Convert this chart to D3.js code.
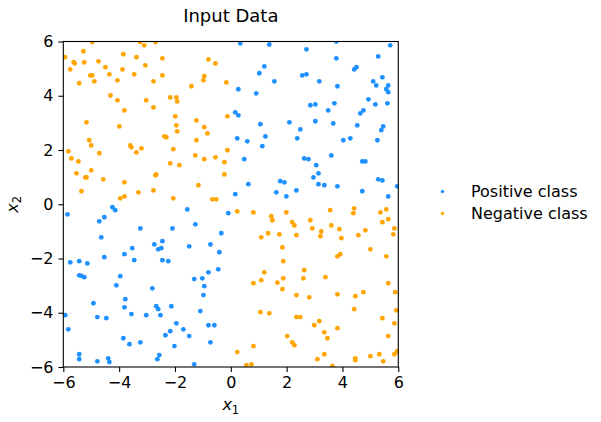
<!DOCTYPE html>
<html>
<head>
<meta charset="utf-8">
<script src="https://cdn.jsdelivr.net/npm/d3@7"></script>
<style>
  body { margin: 0; background: white; }
  svg { display: block; font-family: "DejaVu Sans", sans-serif; }
</style>
</head>
<body>
<svg id="chart"></svg>
<script>
// values
const posX = [0.34,1.38,3.78,5.71,2.71,3.78,5.28,1.20,4.42,4.50,1.02,2.56,2.71,1.56,3.17,5.10,5.43,5.21,5.64,5.57,5.64,3.82,0.27,0.91,4.93,5.18,5.61,2.85,3.03,3.71,3.49,4.75,4.64,0.16,0.27,1.06,2.10,3.03,3.67,4.53,5.46,5.39,2.49,0.23,0.59,1.24,1.13,2.38,4.03,4.28,5.25,3.60,0.48,2.63,2.78,3.06,4.71,4.82,3.14,2.96,1.77,1.92,0.63,3.14,3.35,3.82,5.28,5.43,5.96,2.35,1.63,4.71,0.16,1.99,5.64,
  -5.85,-4.24,-4.14,-1.56,-0.09,-4.53,-4.71,-1.27,-3.24,-2.09,-0.34,-4.64,-2.45,-2.74,-1.49,-0.73,-3.53,-2.60,-2.49,-0.41,-3.81,-4.53,-3.46,-2.45,-2.24,-5.75,-5.43,-5.14,-0.45,-0.80,-5.43,-5.35,-5.25,-3.96,-1.31,-1.02,-4.10,-0.95,-2.81,-0.98,-3.78,-4.92,-3.81,-2.67,-2.60,-2.52,-2.13,-1.09,-3.56,-3.03,-5.93,-4.78,-4.46,-1.95,-0.80,-0.59,-5.82,-1.70,-2.17,-2.34,-1.49,-3.85,-3.63,-3.24,-0.73,-2.02,-5.43,-5.43,-2.56,-2.63,-4.39,-4.35,-4.78,-1.31];
const posY = [5.93,5.89,6.00,5.86,5.71,5.38,5.45,5.08,4.97,5.05,4.83,4.75,4.79,4.53,4.53,4.53,4.68,4.38,4.38,4.24,4.13,4.35,4.24,4.09,3.87,3.68,3.72,3.65,3.68,3.72,3.46,3.46,3.35,3.39,3.28,2.95,3.02,3.06,2.98,2.91,2.87,2.73,2.76,2.43,2.32,2.50,2.14,2.43,2.36,2.43,2.36,1.80,1.66,1.69,1.66,1.44,1.58,1.58,1.14,0.99,0.85,0.81,0.74,0.74,0.70,0.66,0.92,0.88,0.66,0.51,0.44,0.48,0.37,0.29,0.29,
  -0.37,-0.11,-0.22,-0.19,-0.33,-0.48,-0.63,-0.74,-0.89,-0.89,-1.07,-1.22,-1.36,-1.48,-1.55,-1.48,-1.62,-1.66,-1.62,-1.77,-1.84,-1.95,-2.06,-2.06,-2.10,-2.14,-2.10,-2.18,-2.40,-2.51,-2.62,-2.64,-2.69,-2.65,-2.76,-2.73,-2.99,-3.02,-3.10,-3.35,-3.50,-3.65,-3.80,-3.76,-3.87,-4.09,-3.76,-3.94,-4.05,-4.09,-4.09,-4.16,-4.20,-4.39,-4.46,-4.46,-4.61,-4.61,-4.68,-4.83,-4.86,-4.94,-5.16,-5.09,-5.09,-5.23,-5.53,-5.71,-5.56,-5.71,-5.68,-5.82,-5.79,-5.90];

const negX = [-4.96,-3.25,-2.70,-3.10,-5.28,-3.85,-5.94,-3.38,-2.45,-0.80,-5.63,-5.59,-5.25,-4.74,-0.55,-3.06,-4.49,-5.75,-3.88,-5.03,-4.96,-4.35,-3.46,-2.45,-0.95,-4.06,-4.89,-2.77,-0.98,-0.16,-5.43,-1.41,-4.31,-2.17,-1.95,-1.92,-4.06,-3.03,-3.81,-2.77,-1.99,-0.12,-1.23,-5.17,-3.99,-1.95,-0.95,-1.92,-0.84,-2.38,-2.31,-5.07,-1.23,-5.00,-3.60,-3.56,-2.06,-3.20,-5.82,-0.12,-3.38,-4.71,-1.27,-5.71,-0.55,-0.95,-5.46,-2.17,-0.23,-1.84,-5.00,-5.53,-2.67,-2.70,-0.23,-5.21,-5.17,-4.57,-3.81,-1.16,-5.35,-3.31,-2.77,-3.96,-3.81,-2.06,-0.66,-0.52,
  0.23,0.81,1.45,1.49,1.99,3.56,4.42,4.39,5.57,5.36,5.64,5.43,2.85,2.20,2.28,3.60,2.92,3.89,5.86,3.24,3.21,4.82,1.34,1.74,2.35,1.09,4.57,5.82,3.96,1.85,5.00,3.92,3.82,5.57,1.88,1.20,2.63,3.39,0.81,1.09,1.67,1.88,2.60,1.85,5.64,2.35,2.81,3.82,4.46,4.75,5.89,4.42,1.06,1.38,5.93,2.35,2.49,5.43,3.17,2.99,5.86,3.82,3.35,2.02,3.46,5.64,2.20,2.28,0.81,0.23,5.96,3.35,3.10,4.46,4.46,5.00,5.32,5.46,5.86,0.56,0.74,3.64];
const negY = [5.98,5.98,5.98,5.86,5.64,5.53,5.42,5.42,5.38,5.34,5.24,5.19,5.23,5.27,5.19,5.12,5.05,4.97,4.97,4.75,4.75,4.79,4.79,4.75,4.72,4.57,4.53,4.53,4.57,4.49,4.46,4.35,4.01,3.94,3.94,3.79,3.83,3.83,3.46,3.57,3.24,3.24,3.09,3.02,2.87,2.91,2.84,2.69,2.61,2.50,2.47,2.36,2.36,2.17,2.17,2.10,2.03,2.06,1.95,1.99,1.91,1.88,1.80,1.69,1.73,1.66,1.58,1.51,1.55,1.44,1.25,1.14,1.10,1.07,1.10,0.99,0.99,0.92,0.81,0.70,0.48,0.44,0.51,0.22,0.29,0.22,0.18,0.18,
  -0.26,-0.30,-0.44,-0.59,-0.30,-0.22,-0.15,-0.33,-0.19,-0.30,-0.55,-0.66,-0.59,-0.66,-0.78,-0.78,-0.89,-0.92,-0.89,-1.00,-1.18,-0.96,-1.07,-1.11,-1.14,-1.22,-1.14,-1.11,-1.25,-1.59,-1.66,-1.84,-1.92,-1.92,-2.10,-2.51,-2.43,-2.69,-2.91,-2.80,-2.89,-2.73,-2.73,-3.13,-2.91,-3.35,-3.43,-3.32,-3.39,-3.24,-3.24,-3.87,-3.98,-4.02,-3.91,-4.16,-4.16,-4.20,-4.31,-4.46,-4.39,-4.57,-4.72,-4.86,-4.94,-4.86,-5.09,-5.20,-5.23,-5.45,-5.42,-5.53,-5.71,-5.68,-5.75,-5.60,-5.53,-5.79,-5.53,-5.93,-5.90,-5.97];

const ticks = [-6, -4, -2, 0, 2, 4, 6];
const classNames = ["Positive class", "Negative class"];
const classColors = ["#1e90ff", "#ffa500"];

// layout
const w = 601;
const h = 422;
const plotLeft = 63.3, plotRight = 398.3, plotTop = 41.5, plotBottom = 367;

const xScale = d3.scaleLinear().domain([-6, 6]).range([plotLeft, plotRight]);
const yScale = d3.scaleLinear().domain([-6, 6]).range([plotBottom, plotTop]);

const svg = d3.select("#chart")
              .attr("width", w)
              .attr("height", h);

svg.append("clipPath")
   .attr("id", "plotClip")
   .append("rect")
   .attr("x", plotLeft)
   .attr("y", plotTop)
   .attr("width", plotRight - plotLeft)
   .attr("height", plotBottom - plotTop);

// points
const plot = svg.append("g").attr("clip-path", "url(#plotClip)");

const groups = [
  {x: posX, y: posY, color: classColors[0]},
  {x: negX, y: negY, color: classColors[1]}
];

groups.forEach(g => {
  plot.append("g")
      .selectAll("circle")
      .data(g.x.map((d, i) => [d, g.y[i]]))
      .enter()
      .append("circle")
      .attr("cx", d => xScale(d[0]))
      .attr("cy", d => yScale(d[1]))
      .attr("r", 2.4)
      .style("fill", g.color);
});

// axes
const xAxis = d3.axisBottom(xScale).tickValues(ticks).tickSize(4.9).tickPadding(4.9).tickSizeOuter(0);
const yAxis = d3.axisLeft(yScale).tickValues(ticks).tickSize(4.9).tickPadding(4.9).tickSizeOuter(0);

const gx = svg.append("g")
   .attr("transform", `translate(0, ${plotBottom})`)
   .call(xAxis);

const gy = svg.append("g")
   .attr("transform", `translate(${plotLeft}, 0)`)
   .call(yAxis);

[gx, gy].forEach(g => {
  g.select(".domain").remove();
  g.selectAll(".tick line").attr("stroke", "#000").attr("stroke-width", 1.1);
  g.selectAll(".tick text")
   .attr("fill", "#000")
   .style("font-size", "16px")
   .style("font-family", "DejaVu Sans");
});

// frame
svg.append("rect")
   .attr("x", plotLeft)
   .attr("y", plotTop)
   .attr("width", plotRight - plotLeft)
   .attr("height", plotBottom - plotTop)
   .attr("fill", "none")
   .attr("stroke", "#000")
   .attr("stroke-width", 1.1);

// title
svg.append("text")
   .attr("x", (plotLeft + plotRight) / 2)
   .attr("y", 22)
   .attr("text-anchor", "middle")
   .style("font-size", "18px")
   .text("Input Data");

// axis labels
const xLabel = svg.append("text")
   .attr("x", (plotLeft + plotRight) / 2)
   .attr("y", 410)
   .attr("text-anchor", "middle")
   .style("font-size", "16px");
xLabel.append("tspan").style("font-style", "italic").text("x");
xLabel.append("tspan").attr("dy", 3.5).style("font-size", "11.5px").text("1");

const yLabel = svg.append("text")
   .attr("transform", `translate(17.5, ${(plotTop + plotBottom) / 2}) rotate(-90)`)
   .attr("text-anchor", "middle")
   .style("font-size", "16px");
yLabel.append("tspan").style("font-style", "italic").text("x");
yLabel.append("tspan").attr("dy", 3.5).style("font-size", "11.5px").text("2");

// legend
const legend = svg.append("g");
classNames.forEach((name, i) => {
  legend.append("circle")
        .attr("cx", 442.5)
        .attr("cy", 191.5 + i * 22)
        .attr("r", 1.7)
        .style("fill", classColors[i]);
  legend.append("text")
        .attr("x", 471)
        .attr("y", 197.3 + i * 22)
        .style("font-size", "16px")
        .text(name);
});
</script>
</body>
</html>
